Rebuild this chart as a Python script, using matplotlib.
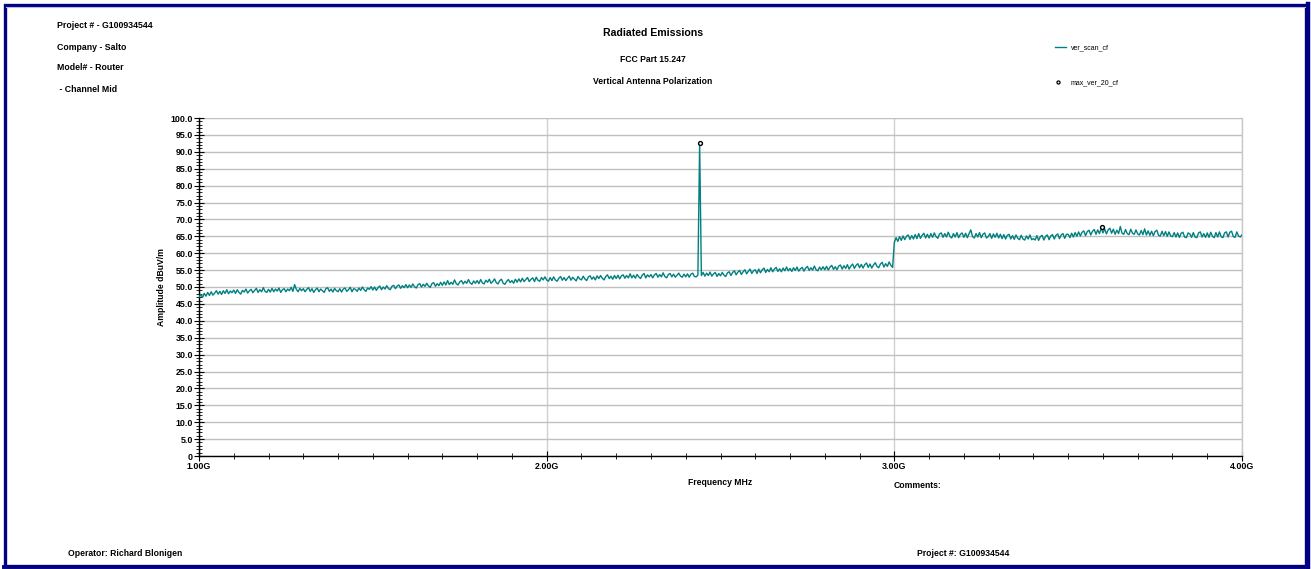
import matplotlib
matplotlib.use("Agg")
import matplotlib.pyplot as plt
from matplotlib.ticker import MultipleLocator, FixedLocator
from matplotlib.patches import Rectangle
from matplotlib.lines import Line2D
import numpy as np

plt.rcParams['font.family'] = ['Liberation Sans', 'DejaVu Sans']

# ---- data ----
freq_start_mhz = 1000.0
freq_step_mhz = 5.0
scan_amp = [
    47.0, 47.8, 46.9, 48.1, 47.3, 48.4, 47.5, 48.6, 47.6, 48.2, 48.9, 47.9, 48.7, 47.8, 48.9, 48.1, 49.2, 48.0, 48.8, 48.3,
    49.1, 48.1, 49.2, 48.4, 47.9, 49.0, 48.5, 49.4, 48.2, 48.9, 49.3, 48.3, 49.0, 49.6, 48.4, 49.2, 48.6, 49.8, 48.7, 48.4,
    49.3, 48.5, 49.6, 48.6, 49.4, 48.8, 49.7, 48.4, 49.2, 49.5, 48.6, 49.4, 48.9, 49.9, 48.7, 50.7, 49.3, 48.6, 49.6, 48.9,
    49.5, 48.6, 49.3, 49.8, 48.7, 49.5, 48.4, 49.2, 49.7, 48.6, 49.4, 48.9, 48.4, 49.5, 49.8, 48.7, 49.4, 48.5, 49.6, 48.9,
    48.6, 49.5, 48.5, 49.4, 49.7, 48.7, 49.2, 49.9, 48.6, 49.5, 49.3, 48.7, 49.7, 49.0, 50.0, 49.2, 48.7, 49.7, 49.3, 50.1,
    49.1, 50.0, 49.0, 49.8, 50.3, 49.2, 50.0, 49.4, 50.4, 49.5, 49.2, 50.2, 50.5, 49.5, 50.3, 50.6, 49.6, 50.4, 49.8, 50.7,
    49.8, 50.6, 49.9, 50.9, 50.1, 49.7, 50.7, 51.0, 50.0, 50.8, 50.2, 51.1, 50.3, 49.9, 51.0, 51.3, 50.2, 51.0, 50.4, 51.4,
    50.5, 51.5, 50.6, 51.9, 50.7, 51.4, 50.8, 52.1, 51.0, 50.6, 51.5, 51.9, 50.9, 51.7, 51.1, 52.2, 51.2, 50.8, 51.8, 51.1,
    51.9, 51.0, 52.2, 51.2, 50.9, 52.0, 51.4, 52.3, 51.1, 51.6, 52.4, 51.3, 50.9, 51.9, 52.3, 51.1, 50.8, 51.7, 52.2, 51.3,
    51.9, 51.1, 52.3, 51.4, 52.4, 51.5, 52.6, 51.6, 52.2, 52.8, 51.6, 52.3, 52.7, 51.6, 52.9, 52.0, 51.7, 52.8, 52.1, 53.0,
    52.1, 51.7, 52.8, 51.9, 53.0, 52.1, 51.7, 52.6, 53.1, 52.0, 52.8, 51.9, 52.6, 53.2, 52.0, 52.9, 52.3, 51.8, 53.1, 52.4,
    52.1, 53.2, 52.4, 51.9, 53.0, 53.3, 52.3, 53.0, 52.1, 53.3, 52.5, 53.4, 52.6, 52.1, 53.1, 53.6, 52.5, 53.2, 52.3, 53.4,
    52.5, 53.5, 52.4, 53.3, 53.6, 52.6, 53.4, 52.7, 53.9, 52.7, 53.5, 52.6, 53.7, 53.0, 52.5, 53.5, 54.0, 52.7, 53.6, 53.0,
    53.7, 52.7, 53.6, 54.0, 52.9, 53.7, 53.0, 54.2, 53.1, 52.7, 53.7, 54.0, 53.0, 53.8, 52.9, 53.5, 54.1, 53.2, 52.9, 53.8,
    53.0, 53.9, 52.9, 53.8, 54.1, 53.1, 53.0, 53.5, 92.6, 53.4, 54.3, 53.2, 54.1, 53.4, 54.4, 53.2, 53.9, 54.3, 53.1, 54.0,
    53.3, 54.3, 53.5, 53.1, 54.2, 54.5, 53.4, 54.3, 54.8, 53.6, 54.4, 54.9, 53.7, 54.5, 55.1, 53.9, 54.6, 55.3, 54.0, 54.8,
    55.1, 54.0, 55.3, 54.2, 55.1, 55.6, 54.3, 55.2, 54.5, 55.7, 54.5, 55.3, 55.8, 54.6, 55.4, 54.5, 55.6, 54.8, 55.9, 54.8,
    55.5, 54.6, 55.7, 54.9, 55.9, 54.7, 55.4, 55.8, 54.7, 55.6, 56.1, 54.9, 55.7, 55.0, 56.2, 55.1, 54.8, 55.9, 55.1, 56.0,
    55.1, 56.1, 55.0, 55.9, 56.4, 55.2, 56.0, 55.1, 56.2, 56.5, 55.3, 56.3, 55.5, 56.6, 55.3, 56.2, 56.8, 55.5, 56.4, 56.9,
    55.7, 56.7, 55.6, 56.6, 57.1, 55.8, 56.8, 55.6, 56.5, 57.2, 56.1, 55.7, 56.8, 57.3, 55.9, 56.9, 56.1, 57.4, 56.4, 55.8,
    63.2, 64.6, 63.5, 64.9, 63.8, 65.1, 64.0, 65.0, 65.4, 64.1, 65.2, 64.2, 65.5, 64.3, 65.8, 64.4, 65.3, 65.9, 64.5, 65.6,
    64.5, 65.8, 64.7, 66.0, 64.9, 64.4, 65.7, 66.0, 64.7, 65.8, 64.8, 66.2, 65.0, 64.5, 65.8, 64.8, 66.1, 64.6, 65.6, 66.0,
    64.7, 65.9, 64.6, 65.8, 66.9, 64.9, 64.5, 65.8, 64.8, 66.1, 64.6, 65.6, 66.0, 64.5, 64.9, 65.8, 64.4, 65.7, 64.7, 65.9,
    64.5, 65.6, 64.3, 65.5, 64.2, 65.3, 65.6, 64.2, 65.2, 64.1, 65.4, 64.4, 64.0, 65.3, 64.2, 63.9, 65.1, 64.2, 65.4, 64.0,
    64.3, 63.9, 65.2, 63.8, 64.9, 65.3, 63.9, 65.0, 65.4, 64.0, 65.1, 65.5, 64.2, 65.3, 65.7, 64.3, 65.4, 65.8, 64.4, 65.6,
    65.6, 64.6, 65.9, 64.8, 66.1, 65.0, 66.3, 65.1, 66.2, 66.6, 65.2, 66.4, 66.8, 65.4, 66.5, 67.0, 65.6, 66.9, 65.8, 67.4,
    66.0, 67.2, 65.7, 66.9, 67.4, 65.9, 67.1, 65.6, 66.8, 65.8, 67.9, 65.9, 65.6, 67.0, 65.8, 65.5, 67.1, 65.9, 65.6, 66.9,
    65.7, 65.4, 66.7, 65.5, 67.2, 65.4, 66.6, 65.3, 66.5, 65.2, 66.4, 66.8, 65.3, 65.1, 66.5, 65.2, 66.4, 65.0, 66.3, 65.1,
    64.9, 66.1, 64.8, 66.0, 64.7, 65.9, 66.2, 64.8, 64.6, 66.0, 65.7, 64.7, 66.1, 64.8, 64.6, 66.0, 66.3, 64.8, 65.8, 64.7,
    66.0, 64.7, 66.2, 65.0, 64.6, 66.1, 64.8, 66.3, 64.9, 64.6, 66.0, 66.3, 64.8, 66.2, 66.5, 64.9, 64.7, 66.3, 65.1, 64.8,
    65.4,
]
max_freq_mhz = [2440.0, 3597.0]
max_amp = [92.6, 67.8]

x_major = [1000, 2000, 3000, 4000]
x_major_labels = ["1.00G", "2.00G", "3.00G", "4.00G"]
y_major = list(range(0, 101, 5))
y_major_labels = ["0"] + [f"{v:.1f}" for v in y_major[1:]]

header_lines = ["Project # - G100934544", "Company - Salto", "Model# - Router", " - Channel Mid"]
title_lines = ["Radiated Emissions", "FCC Part 15.247", "Vertical Antenna Polarization"]
series_names = ["ver_scan_cf", "max_ver_20_cf"]

# ---- figure ----
W, H = 1311, 569
fig = plt.figure(figsize=(W / 100, H / 100), dpi=100)

def fx(px):
    return px / W

def fy(py):
    return 1 - py / H

ax = fig.add_axes([fx(199), fy(456), fx(1242) - fx(199), fy(118) - fy(456)])

teal = "#008080"
freqs = freq_start_mhz + freq_step_mhz * np.arange(len(scan_amp))
ax.plot(freqs, scan_amp, color=teal, lw=1.0, zorder=3)
ax.plot(max_freq_mhz, max_amp, ls="none", marker="o", ms=2.8, mfc="white",
        mec="black", mew=1.0, zorder=4)

ax.set_xlim(1000, 4000)
ax.set_ylim(0, 100)

ax.xaxis.set_major_locator(FixedLocator(x_major))
ax.set_xticklabels(x_major_labels)
ax.xaxis.set_minor_locator(MultipleLocator(100))
ax.yaxis.set_major_locator(FixedLocator(y_major))
ax.set_yticklabels(y_major_labels)
ax.yaxis.set_minor_locator(MultipleLocator(1))

ax.tick_params(axis="both", which="major", direction="inout", length=7, width=0.8,
               labelsize=6.4, pad=1)
ax.tick_params(axis="both", which="minor", direction="inout", length=4, width=0.6)
for lab in ax.get_xticklabels() + ax.get_yticklabels():
    lab.set_fontweight("bold")

ax.grid(True, which="major", axis="y", color="#c0c0c0", lw=1.0, zorder=0)
ax.grid(True, which="major", axis="x", color="#d0d0d0", lw=1.0, zorder=0)
ax.set_axisbelow(True)
ax.spines["top"].set_visible(False)
ax.spines["right"].set_color("#c8c8c8")
ax.spines["right"].set_linewidth(1.0)
ax.spines["left"].set_linewidth(1.0)
ax.spines["bottom"].set_linewidth(1.0)

ax.set_ylabel("Amplitude dBuV/m", fontsize=6.2, fontweight="bold", labelpad=3)
ax.set_xlabel("Frequency MHz", fontsize=6.2, fontweight="bold", labelpad=5)

# header texts
for txt, py in zip(header_lines, [25, 47, 68, 89]):
    fig.text(fx(57), fy(py), txt, fontsize=6.3, fontweight="bold", va="center", ha="left")

for txt, py, fs in zip(title_lines, [33, 59, 82], [7.6, 6.2, 6.2]):
    fig.text(fx(653), fy(py), txt, fontsize=fs, fontweight="bold", va="center", ha="center")

# legend
fig.add_artist(Line2D([fx(1055), fx(1066)], [fy(47), fy(47)], color=teal, lw=1.0))
fig.text(fx(1071), fy(47.5), series_names[0], fontsize=5.0, va="center", ha="left")
fig.add_artist(Line2D([fx(1058)], [fy(82)], ls="none", marker="o", ms=2.2, mfc="white",
                      mec="black", mew=0.9))
fig.text(fx(1071), fy(82.5), series_names[1], fontsize=5.0, va="center", ha="left")

fig.text(fx(918), fy(486), "Comments:", fontsize=6.2, fontweight="bold", va="center", ha="center")
fig.text(fx(68), fy(554), "Operator: Richard Blonigen", fontsize=6.2, fontweight="bold",
         va="center", ha="left")
fig.text(fx(917), fy(554), "Project #: G100934544", fontsize=6.2, fontweight="bold",
         va="center", ha="left")

# frame
navy = "#000080"
fig.add_artist(Rectangle((fx(4.5), fy(565.5)), fx(1306) - fx(4.5), fy(4.5) - fy(565.5),
                         fill=False, ec=navy, lw=2.4, transform=fig.transFigure))
fig.add_artist(Line2D([fx(1307.5), fx(1307.5)], [fy(4), fy(567)], color=navy, lw=3.2))
fig.add_artist(Line2D([fx(4), fx(1308)], [fy(566.5), fy(566.5)], color=navy, lw=2.8))
fig.add_artist(Line2D([fx(6), fx(1305)], [fy(6.5), fy(6.5)], color="#b8b8e8", lw=0.8))

fig.savefig("out.png", dpi=100)
